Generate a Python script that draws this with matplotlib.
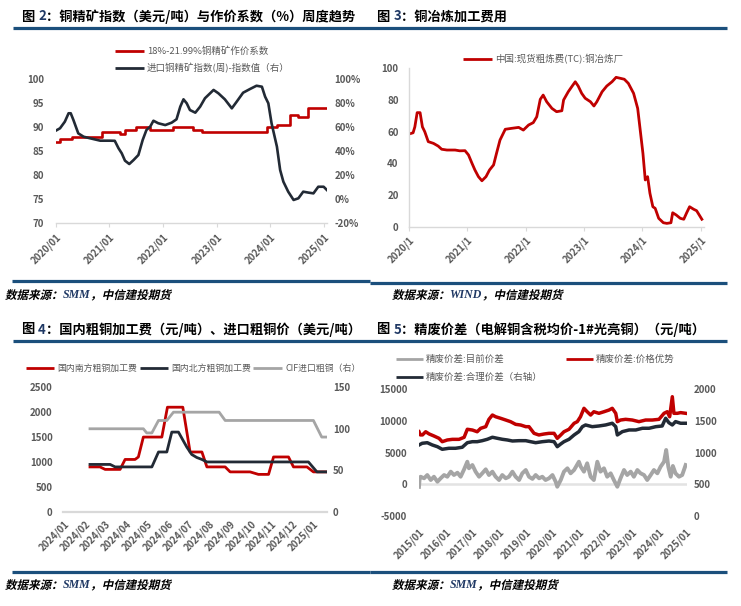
import matplotlib
matplotlib.use('Agg')
import matplotlib.pyplot as plt
from matplotlib.lines import Line2D
from matplotlib.patheffects import AbstractPathEffect
from matplotlib.transforms import Affine2D

plt.rcParams['font.family'] = ['Noto Sans CJK SC', 'DejaVu Sans']
plt.rcParams['axes.unicode_minus'] = False

# ---------------- data ----------------
# Figure 2: copper concentrate pricing coefficient (left) and index (right, %)
coef_x = [2020.00, 2020.08, 2020.30, 2020.86, 2021.20, 2021.29, 2021.50, 2021.76, 2022.19,
          2022.56, 2022.72, 2023.93, 2024.12, 2024.36, 2024.52, 2024.70, 2025.05]
coef_y = [87, 87.5, 88, 89, 88.5, 89.5, 90, 89.5, 90, 89.5, 89, 90, 90.5, 92.5, 92, 94, 94]

idx_x = [2020.00, 2020.08, 2020.17, 2020.24, 2020.28, 2020.33, 2020.42, 2020.52, 2020.64, 2020.83,
         2021.01, 2021.10, 2021.17, 2021.23, 2021.29, 2021.37, 2021.45, 2021.54, 2021.62, 2021.69,
         2021.76, 2021.82, 2021.91, 2022.04, 2022.16, 2022.25, 2022.32, 2022.38, 2022.44, 2022.50,
         2022.60, 2022.69, 2022.78, 2022.94, 2023.03, 2023.15, 2023.28, 2023.37, 2023.49, 2023.62,
         2023.74, 2023.84, 2023.90, 2023.96, 2024.02, 2024.12, 2024.18, 2024.24, 2024.33, 2024.43,
         2024.52, 2024.61, 2024.71, 2024.80, 2024.89, 2024.99, 2025.05]
idx_y = [57, 59, 64.5, 71.5, 71.5, 65.9, 54.8, 52, 50.7, 48.7,
         48.7, 48.6, 42.4, 38.2, 32.1, 29.3, 32.6, 36.8, 49.3, 57.6,
         60.4, 65.3, 63.2, 61.7, 63.7, 66.5, 77, 83.1, 79.8, 74.2,
         72, 77, 84, 90.9, 88.1, 83.1, 75.6, 81.1, 88.6, 91.7,
         94.4, 93.6, 85.3, 79.8, 63.2, 43.7, 24.3, 14.6, 6.3, -0.6,
         0.8, 6.3, 5.5, 4.9, 10.4, 10.4, 7.7]

# Figure 3: spot TC
tc_x = [2020.00, 2020.07, 2020.10, 2020.14, 2020.19, 2020.23, 2020.27, 2020.33, 2020.42, 2020.50,
        2020.56, 2020.65, 2020.79, 2020.87, 2020.96, 2021.02, 2021.08, 2021.13, 2021.19, 2021.25,
        2021.32, 2021.38, 2021.45, 2021.50, 2021.56, 2021.65, 2021.76, 2021.88, 2021.96, 2022.05,
        2022.13, 2022.19, 2022.25, 2022.30, 2022.36, 2022.45, 2022.53, 2022.62, 2022.65, 2022.73,
        2022.79, 2022.85, 2022.90, 2022.96, 2023.02, 2023.11, 2023.17, 2023.22, 2023.31, 2023.39,
        2023.48, 2023.55, 2023.62, 2023.69, 2023.76, 2023.85, 2023.92, 2023.96, 2024.01, 2024.05,
        2024.09, 2024.13, 2024.18, 2024.22, 2024.28, 2024.36, 2024.42, 2024.49, 2024.52, 2024.58,
        2024.65, 2024.71, 2024.76, 2024.81, 2024.88, 2024.93, 2025.02]
tc_y = [58.5, 59.3, 63, 72, 72, 63, 60, 53.7, 52.6, 50.9,
        48.9, 48.4, 48.4, 47.9, 48, 45.3, 40, 35.8, 31.6, 29,
        31.6, 35.8, 39, 46.3, 54.7, 61.5, 62.1, 62.7, 61, 64.2,
        65.7, 69.4, 80.4, 83.1, 78.9, 74.7, 72.6, 73.2, 80, 85.2,
        88.4, 91.5, 88.8, 84.2, 81.1, 78.9, 76.2, 78.9, 85.2, 88.8,
        91.5, 94.3, 93.7, 93.1, 90.5, 84.2, 74.7, 62.1, 46.3, 29.5,
        31.6, 21.1, 12.6, 11.6, 5.3, 2.5, 2.1, 2.5, 8.8, 7.4,
        5.3, 4.7, 8.8, 12.6, 11, 10.1, 4.7]

# Figure 4: blister copper processing fees (month index, 0 = 2024/01)
month_labels = ['2024/01', '2024/02', '2024/03', '2024/04', '2024/05', '2024/06', '2024/07',
                '2024/08', '2024/09', '2024/10', '2024/11', '2024/12', '2025/01']
south_x = [1.25, 1.73, 1.98, 2.70, 2.94, 3.42, 3.58, 3.82, 4.71, 4.98, 5.72, 6.07, 6.64, 6.88,
           7.76, 8.00, 8.96, 9.36, 9.85, 10.09, 10.81, 11.05, 11.70, 12.01, 12.65]
south_y = [900, 900, 850, 850, 1050, 1050, 1100, 1500, 1500, 2100, 2100, 1200, 1200, 900,
           900, 800, 800, 750, 750, 1100, 1100, 900, 900, 800, 800]
north_x = [1.25, 2.22, 2.46, 4.23, 4.55, 4.95, 5.19, 5.51, 5.91, 6.15, 6.39, 6.64, 6.88, 11.77, 12.18, 12.65]
north_y = [950, 950, 900, 900, 1200, 1200, 1600, 1600, 1300, 1150, 1090, 1050, 1000, 1000, 800, 800]
cif_x = [1.25, 3.82, 3.98, 4.23, 4.55, 4.95, 5.27, 7.47, 7.76, 12.01, 12.41, 12.65]
cif_y = [100, 100, 95, 95, 110, 110, 120, 120, 110, 110, 90, 90]

# Figure 5: refined-scrap spread
cur_x = [2015.00, 2015.02, 2015.06, 2015.19, 2015.31, 2015.44, 2015.56, 2015.69, 2015.81, 2015.94,
         2016.06, 2016.19, 2016.31, 2016.44, 2016.56, 2016.69, 2016.81, 2016.87,
         2017.00, 2017.12, 2017.25, 2017.37, 2017.50, 2017.62, 2017.75, 2017.87,
         2018.00, 2018.12, 2018.25, 2018.37, 2018.50, 2018.62, 2018.75, 2018.87,
         2019.00, 2019.12, 2019.25, 2019.37, 2019.50, 2019.62, 2019.74, 2019.87,
         2020.00, 2020.12, 2020.18, 2020.31, 2020.43, 2020.56, 2020.68, 2020.81, 2020.99,
         2021.06, 2021.18, 2021.30, 2021.43, 2021.55, 2021.68, 2021.80, 2021.93,
         2022.05, 2022.18, 2022.30, 2022.43, 2022.55, 2022.68, 2022.80, 2022.93,
         2023.05, 2023.18, 2023.30, 2023.43, 2023.55, 2023.68, 2023.80, 2023.93,
         2024.05, 2024.18, 2024.26, 2024.34, 2024.43, 2024.51, 2024.61, 2024.74, 2024.86, 2024.99]
cur_y = [-400, 700, 1200, 950, 1470, 680, 1200, 410, 950, 1470,
         1200, 2000, 1470, 1830, 1200, 2370, 3570, 2530,
         3050, 2000, 1200, 1740, 2370, 1470, 2000, 1200,
         680, 1470, 950, 1200, 2000, 1200, 680, 1740,
         2260, 1200, 860, 1470, 950, 1200, 680, 950,
         1470, 410, -380, 680, 2000, 2530, 1740, 2260, 3570,
         2780, 2000, 3320, 1200, 680, 3570, 2000, 2530,
         1200, 1740, 680, -380, 950, 2260, 1470, 2000,
         1200, 2260, 1740, 1470, 680, 1470, 2260, 1740,
         2780, 3570, 5420, 2780, 1200, 2900, 1740, 1200, 1470, 3050]
adv_x = [2015.00, 2015.05, 2015.13, 2015.25, 2015.38, 2015.56, 2015.75, 2015.87,
         2016.06, 2016.25, 2016.50, 2016.69, 2016.81,
         2017.00, 2017.18, 2017.31, 2017.50, 2017.62, 2017.75, 2017.87,
         2018.06, 2018.25, 2018.43, 2018.62, 2018.81,
         2019.00, 2019.12, 2019.31, 2019.49, 2019.68, 2019.87,
         2020.06, 2020.18, 2020.31, 2020.43, 2020.62, 2020.81, 2020.93,
         2021.05, 2021.18, 2021.30, 2021.43, 2021.55, 2021.74, 2021.93,
         2022.12, 2022.24, 2022.37, 2022.43, 2022.55, 2022.74, 2022.99,
         2023.24, 2023.49, 2023.74, 2023.99,
         2024.18, 2024.30, 2024.39, 2024.49, 2024.55, 2024.68, 2024.80, 2024.99]
adv_y = [8300, 7800, 7800, 8300, 7950, 7630, 7260, 6730,
         7000, 7100, 7100, 7420, 8690,
         8570, 8300, 8840, 9100, 10260, 10940, 10670,
         10420, 10150, 9890, 9470, 9360,
         9100, 9100, 8050, 7790, 7940, 8050,
         8050, 7260, 7790, 8300, 8690, 9630, 9890,
         10670, 12000, 11460, 10940, 11460, 11210, 11460,
         11730, 12000, 11210, 9890, 10150, 10260, 10150,
         9890, 10150, 10150, 10260,
         11210, 11460, 10670, 13830, 11210, 11210, 11320, 11210]
fair_x = [2015.00, 2015.12, 2015.31, 2015.50, 2015.69, 2015.87,
          2016.12, 2016.37, 2016.62, 2016.81,
          2017.00, 2017.18, 2017.37, 2017.56, 2017.75, 2017.93,
          2018.12, 2018.31, 2018.50, 2018.75,
          2019.00, 2019.18, 2019.37, 2019.62, 2019.87,
          2020.06, 2020.18, 2020.31, 2020.43, 2020.62, 2020.81, 2020.99,
          2021.12, 2021.24, 2021.49, 2021.74, 2021.99,
          2022.24, 2022.37, 2022.43, 2022.62, 2022.87,
          2023.12, 2023.37, 2023.62, 2023.87,
          2024.11, 2024.24, 2024.36, 2024.49, 2024.61, 2024.80, 2024.99]
fair_y = [1121, 1148, 1157, 1121, 1094, 1053,
          1069, 1069, 1085, 1157,
          1173, 1173, 1189, 1211, 1243, 1227,
          1211, 1200, 1184, 1189,
          1189, 1173, 1157, 1173, 1184,
          1173, 1094, 1137, 1173, 1211, 1279, 1332,
          1410, 1437, 1410, 1421, 1437,
          1464, 1410, 1279, 1332, 1358,
          1358, 1385, 1385, 1410,
          1421, 1543, 1473, 1437, 1490, 1464, 1464]

# ---------------- style ----------------
RED = '#C00000'
DARK = '#222A35'
GRAY = '#A5A5A5'
BLUE = '#1B4F7C'
NAVY = '#1F3864'
TICKC = '#595959'
AXC = '#D9D9D9'
TS = 7

W, H = 741, 606
fig = plt.figure(figsize=(W / 100, H / 100), dpi=100)
fig.patch.set_facecolor('white')
renderer = fig.canvas.get_renderer()


def fx(x):
    return x / W


def fy(y):
    return 1 - y / H


def add_ax(l, t, r, b):
    return fig.add_axes([l / W, 1 - b / H, (r - l) / W, (b - t) / H])


def rule(x0, x1, y):
    fig.add_artist(Line2D([fx(x0), fx(x1)], [fy(y), fy(y)], transform=fig.transFigure,
                          color=BLUE, lw=2.3, solid_capstyle='butt'))


class Oblique(AbstractPathEffect):
    def __init__(self, deg=13):
        super().__init__()
        self.deg = deg

    def draw_path(self, renderer, gc, tpath, affine, rgbFace=None):
        ox, oy = affine.transform((0, 0))
        sk = Affine2D().translate(-ox, -oy).skew_deg(self.deg, 0).translate(ox, oy)
        renderer.draw_path(gc, tpath, affine + sk, rgbFace)


def seq_text(x, y, pieces):
    for s, kw in pieces:
        t = fig.text(fx(x), fy(y), s, va='center', ha='left', **kw)
        bb = t.get_window_extent(renderer)
        x += bb.width


def title(x, y, num, rest):
    kw = dict(fontsize=9.5, fontweight='bold', color='black')
    seq_text(x, y, [('图 ', kw), (num, dict(kw, color=NAVY)), ('：' + rest, kw)])


def source(x, y, org):
    kw = dict(fontsize=8.3, fontweight='bold', color='black', path_effects=[Oblique()])
    skw = dict(fontsize=8.6, fontweight='bold', fontstyle='italic', color=NAVY,
               family=['Liberation Serif'])
    seq_text(x, y, [('数据来源：', kw), (org, skw), ('，中信建投期货', kw)])


def legend_item(x0, x1, y, color, label, size=6.8):
    fig.add_artist(Line2D([fx(x0), fx(x1)], [fy(y), fy(y)], transform=fig.transFigure,
                          color=color, lw=2.0, solid_capstyle='butt'))
    fig.text(fx(x1 + 3), fy(y), label, va='center', ha='left', fontsize=size, color=TICKC)


def clean(ax):
    for s in ax.spines.values():
        s.set_visible(False)


def yticks(ax, vals, labels, pad):
    ax.set_yticks(vals, labels=labels, fontsize=TS, color=TICKC, fontweight='bold')
    ax.tick_params(axis='y', length=0, pad=pad)


def xticks(ax, vals, labels, pad, length=0):
    ax.set_xticks(vals, labels=labels, fontsize=TS, color=TICKC, fontweight='bold',
                  rotation=45, ha='right', rotation_mode='anchor')
    ax.tick_params(axis='x', length=length, color=AXC, pad=pad)


# ---------------- Figure 2 ----------------
title(22, 16.5, '2', '铜精矿指数（美元/吨）与作价系数（%）周度趋势')
rule(13, 727, 28.3)
ax1 = add_ax(55.7, 79, 327.4, 223.3)
clean(ax1)
ax1.spines['bottom'].set_visible(True)
ax1.spines['bottom'].set_color(AXC)
ax1.spines['bottom'].set_linewidth(1.0)
ax1.set_xlim(2020, 2025.06)
ax1.set_ylim(70, 100)
ax1.plot(coef_x, coef_y, drawstyle='steps-post', color=RED, lw=1.9)
yticks(ax1, [70, 75, 80, 85, 90, 95, 100], ['70', '75', '80', '85', '90', '95', '100'], 8.5)
years1 = [2020, 2021, 2022, 2023, 2024, 2025]
xticks(ax1, years1, [f'{y}/01' for y in years1], 3, length=3)
ax1r = ax1.twinx()
clean(ax1r)
ax1r.set_ylim(-20, 100)
ax1r.plot(idx_x, idx_y, color=DARK, lw=1.9)
yticks(ax1r, [-20, 0, 20, 40, 60, 80, 100], [f'{v}%' for v in [-20, 0, 20, 40, 60, 80, 100]], 5)
legend_item(115, 144, 50.7, RED, '18%-21.99%铜精矿作价系数')
legend_item(115, 144, 68.3, DARK, '进口铜精矿指数(周)-指数值（右）')
rule(12, 370, 281)
source(5, 295.5, 'SMM')

# ---------------- Figure 3 ----------------
title(377, 16.5, '3', '铜冶炼加工费用')
ax2 = add_ax(409, 68.3, 703.6, 226.7)
clean(ax2)
for s in ('left', 'bottom'):
    ax2.spines[s].set_visible(True)
    ax2.spines[s].set_color(AXC)
    ax2.spines[s].set_linewidth(1.0)
ax2.set_xlim(2020, 2025.05)
ax2.set_ylim(0, 100)
ax2.plot(tc_x, tc_y, color=RED, lw=2.0)
yticks(ax2, [0, 20, 40, 60, 80, 100], ['0', '20', '40', '60', '80', '100'], 7.5)
xticks(ax2, years1, [f'{y}/1' for y in years1], 3, length=3)
legend_item(463, 492, 59.3, RED, '中国:现货粗炼费(TC):铜冶炼厂')
rule(370, 727, 282.5)
source(392, 295.5, 'WIND')

# ---------------- Figure 4 ----------------
title(22, 329.5, '4', '国内粗铜加工费（元/吨）、进口粗铜价（美元/吨）')
rule(13, 727, 341)
ax3 = add_ax(63, 387.3, 326.7, 511.7)
clean(ax3)
ax3.spines['bottom'].set_visible(True)
ax3.spines['bottom'].set_color(AXC)
ax3.spines['bottom'].set_linewidth(1.6)
ax3.set_xlim(-0.05, 12.65)
ax3.set_ylim(0, 2500)
ax3.plot(south_x, south_y, color=RED, lw=2.0)
ax3.plot(north_x, north_y, color=DARK, lw=2.0)
yticks(ax3, [0, 500, 1000, 1500, 2000, 2500], ['0', '500', '1000', '1500', '2000', '2500'], 7.5)
xticks(ax3, list(range(13)), month_labels, 5)
ax3r = ax3.twinx()
clean(ax3r)
ax3r.set_ylim(0, 150)
ax3r.plot(cif_x, cif_y, color=GRAY, lw=2.0)
yticks(ax3r, [0, 50, 100, 150], ['0', '50', '100', '150'], 4.5)
legend_item(26, 54, 368, RED, '国内南方粗铜加工费', 6.4)
legend_item(140, 168, 368, DARK, '国内北方粗铜加工费', 6.4)
legend_item(253, 282, 368, GRAY, 'CIF进口粗铜（右）', 6.4)
rule(12, 370, 572.3)
source(5, 585.5, 'SMM')

# ---------------- Figure 5 ----------------
title(377, 329.5, '5', '精废价差（电解铜含税均价-1#光亮铜）（元/吨）')
ax4 = add_ax(419, 389.3, 687, 516)
clean(ax4)
ax4.set_xlim(2015, 2025.04)
ax4.set_ylim(-5000, 15000)
ax4.axhline(0, color='#E3E3E3', lw=1.8, zorder=0)
ax4.plot(cur_x, cur_y, color=GRAY, lw=2.8)
ax4.plot(adv_x, adv_y, color=RED, lw=2.5)
yticks(ax4, [-5000, 0, 5000, 10000, 15000], ['-5000', '0', '5000', '10000', '15000'], 8.5)
years2 = list(range(2015, 2026))
xticks(ax4, years2, [f'{y}/01' for y in years2], 8)
ax4r = ax4.twinx()
clean(ax4r)
ax4r.set_ylim(0, 2000)
ax4r.plot(fair_x, fair_y, color=DARK, lw=2.5)
yticks(ax4r, [0, 500, 1000, 1500, 2000], ['0', '500', '1000', '1500', '2000'], 5)
legend_item(396, 423, 359.3, GRAY, '精废价差:目前价差')
legend_item(566, 593, 359.3, RED, '精废价差:价格优势')
legend_item(396, 423, 377.3, DARK, '精废价差:合理价差（右轴）')
rule(370, 727, 571.7)
source(392, 585.5, 'SMM')

fig.savefig('out.png', dpi=100, facecolor='white')
